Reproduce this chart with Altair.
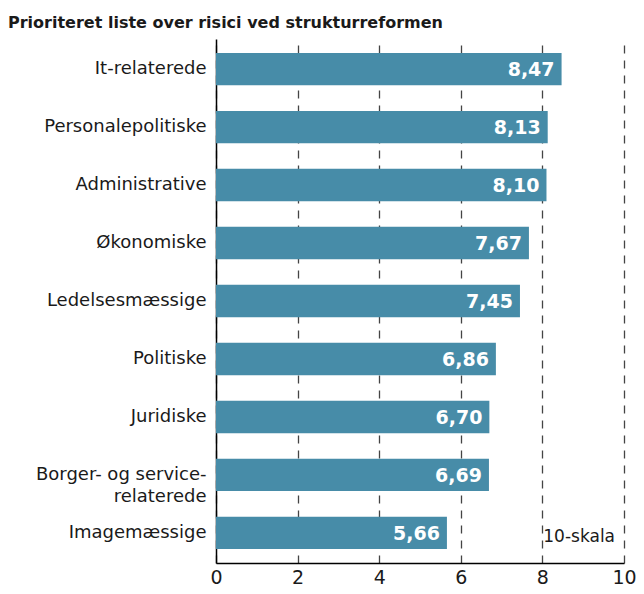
import altair as alt
import pandas as pd

categories = ["It-relaterede", "Personalepolitiske", "Administrative", "Økonomiske",
              "Ledelsesmæssige", "Politiske", "Juridiske", "Borger- og service-|relaterede",
              "Imagemæssige"]
values = [8.47, 8.13, 8.10, 7.67, 7.45, 6.86, 6.70, 6.69, 5.66]
x_ticks = [0, 2, 4, 6, 8, 10]
note = "10-skala"

df = pd.DataFrame({"kategori": categories, "v": values})
df["lbl"] = [f"{v:.2f}".replace(".", ",") for v in values]

FONT = "DejaVu Sans"
COLOR = "#478ca8"

y_enc = alt.Y("kategori:N", sort=categories, title=None,
              scale=alt.Scale(paddingInner=0.44, paddingOuter=0.24),
              axis=alt.Axis(labelExpr="split(datum.label, '|')", labelFontSize=18,
                            labelFont=FONT, labelColor="#1a1a1a", ticks=False,
                            labelPadding=10, domainColor="#000", domainWidth=1.5,
                            labelLimit=300, labelLineHeight=22))
x_enc = alt.X("v:Q", title=None, scale=alt.Scale(domain=[0, 10], nice=False),
              axis=alt.Axis(values=x_ticks, labelFontSize=19, labelFont=FONT,
                            labelColor="#1a1a1a", ticks=False, labelPadding=5,
                            domainColor="#000", domainWidth=1.5,
                            grid=True, gridDash=[8, 7], gridColor="#444", gridWidth=1.3,
                            labelFlush=False))

base = alt.Chart(df)
bars = base.mark_bar(color=COLOR).encode(x=x_enc, y=y_enc)
labels = base.mark_text(align="right", baseline="middle", dx=-7, dy=1, color="white",
                        fontWeight="bold", fontSize=19, font=FONT).encode(
    x="v:Q", y=alt.Y("kategori:N", sort=categories), text="lbl:N")

note_df = pd.DataFrame({"kategori": [categories[-1]], "v": [9.78], "t": [note]})
note_layer = alt.Chart(note_df).mark_text(align="right", baseline="middle", dy=4,
                                          fontSize=17, font=FONT, color="#1a1a1a").encode(
    x="v:Q", y=alt.Y("kategori:N", sort=categories), text="t:N")

chart = alt.layer(bars, labels, note_layer).properties(
    width=408, height=524,
    title=alt.TitleParams("Prioriteret liste over risici ved strukturreformen",
                          anchor="start", frame="group", dx=-208, offset=8,
                          fontSize=16, font=FONT, fontWeight="bold", color="#1a1a1a"),
    autosize=alt.AutoSizeParams(type="none"),
    padding={"left": 208, "top": 31, "right": 12, "bottom": 23},
).configure_view(stroke=None)

chart.save("out.html", embed_options={"renderer": "svg", "actions": False})
